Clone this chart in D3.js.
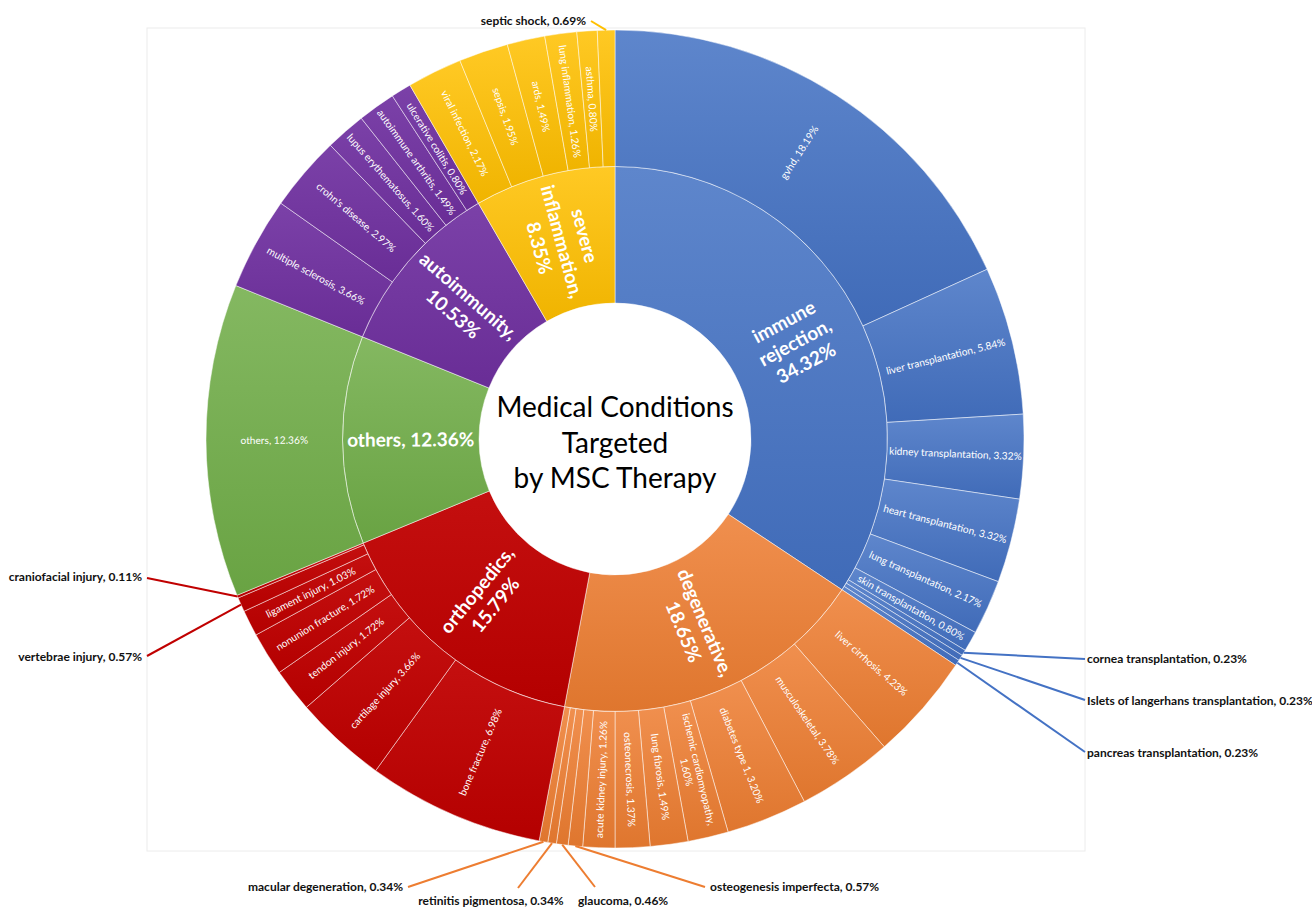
<!DOCTYPE html>
<html>
<head>
<meta charset="utf-8">
<script src="https://cdn.jsdelivr.net/npm/d3@7"></script>
<style>
  body { margin: 0; background: #fff; }
  svg { display: block; font-family: Lato, 'Noto Sans', sans-serif; }
</style>
</head>
<body>
<svg id="chart" width="1312" height="910"></svg>
<script>
// inner ring, clockwise from 12 o'clock
const groups = ['immune rejection', 'degenerative', 'orthopedics', 'others', 'autoimmunity', 'severe inflammation'];
const groupPercents = [34.32, 18.65, 15.79, 12.36, 10.53, 8.35];
const groupColors = ['#4472C4', '#ED7D31', '#C00000', '#70AD47', '#7030A0', '#FFC000'];

// outer ring, one pair of arrays per group
const immuneNames = ['gvhd', 'liver transplantation', 'kidney transplantation', 'heart transplantation',
  'lung transplantation', 'skin transplantation', 'cornea transplantation',
  'Islets of langerhans transplantation', 'pancreas transplantation'];
const immuneValues = [18.19, 5.84, 3.32, 3.32, 2.17, 0.80, 0.23, 0.23, 0.23];

const degenerativeNames = ['liver cirrhosis', 'musculoskeletal', 'diabetes type 1', 'ischemic cardiomyopathy',
  'lung fibrosis', 'osteonecrosis', 'acute kidney injury', 'osteogenesis imperfecta', 'glaucoma',
  'retinitis pigmentosa', 'macular degeneration'];
const degenerativeValues = [4.23, 3.78, 3.20, 1.60, 1.49, 1.37, 1.26, 0.57, 0.46, 0.34, 0.34];

const orthoNames = ['bone fracture', 'cartilage injury', 'tendon injury', 'nonunion fracture',
  'ligament injury', 'vertebrae injury', 'craniofacial injury'];
const orthoValues = [6.98, 3.66, 1.72, 1.72, 1.03, 0.57, 0.11];

const othersNames = ['others'];
const othersValues = [12.36];

const autoNames = ['multiple sclerosis', "crohn's disease", 'lupus erythematosus', 'autoimmune arthritis', 'ulcerative colitis'];
const autoValues = [3.66, 2.97, 1.60, 1.49, 0.80];

const inflamNames = ['viral infection', 'sepsis', 'ards', 'lung inflammation', 'asthma', 'septic shock'];
const inflamValues = [2.17, 1.95, 1.49, 1.26, 0.80, 0.69];

const leafNames = [immuneNames, degenerativeNames, orthoNames, othersNames, autoNames, inflamNames];
const leafValues = [immuneValues, degenerativeValues, orthoValues, othersValues, autoValues, inflamValues];

const titleLines = ['Medical Conditions', 'Targeted', 'by MSC Therapy'];

// where the outside labels of the thin slices go (line end + text anchor)
const callouts = {
  'septic shock': { lx: 591, ly: 21, tx: 586, ty: 21, anchor: 'end' },
  'cornea transplantation': { lx: 1085, ly: 659, tx: 1087, ty: 659, anchor: 'start' },
  'Islets of langerhans transplantation': { lx: 1085, ly: 700, tx: 1087, ty: 701, anchor: 'start' },
  'pancreas transplantation': { lx: 1085, ly: 752, tx: 1087, ty: 753, anchor: 'start' },
  'craniofacial injury': { lx: 147, ly: 578, tx: 142, ty: 577, anchor: 'end' },
  'vertebrae injury': { lx: 147, ly: 656, tx: 142, ty: 657, anchor: 'end' },
  'macular degeneration': { lx: 408, ly: 887, tx: 403, ty: 887, anchor: 'end' },
  'retinitis pigmentosa': { lx: 518, ly: 888, tx: 491, ty: 901, anchor: 'middle' },
  'glaucoma': { lx: 595, ly: 887, tx: 578, ty: 901, anchor: 'start' },
  'osteogenesis imperfecta': { lx: 705, ly: 887, tx: 710, ty: 887, anchor: 'start' }
};

const svg = d3.select('#chart');
const cx = 615, cy = 439;
const rScale = d3.scaleLinear().domain([1, 3]).range([136, 409]);

const root = d3.hierarchy({
  name: 'root',
  children: groups.map((name, i) => ({
    name: name,
    gi: i,
    pct: groupPercents[i],
    children: leafNames[i].map((n, j) => ({ name: n, gi: i, value: leafValues[i][j] }))
  }))
}).sum(d => d.value || 0);

d3.partition().size([2 * Math.PI, 3])(root);

// excel-ish gradient: lighter top, a bit darker bottom
const gradLight = [0.14, 0.14, 0.06, 0.14, 0.08, 0.14];
const defs = svg.append('defs');
groupColors.forEach((c, i) => {
  const lg = defs.append('linearGradient').attr('id', 'grad' + i)
    .attr('x1', 0).attr('y1', 0).attr('x2', 0).attr('y2', 1);
  lg.append('stop').attr('offset', 0).attr('stop-color', d3.interpolateRgb(c, '#fff')(gradLight[i]));
  lg.append('stop').attr('offset', 1).attr('stop-color', d3.interpolateRgb(c, '#000')(0.06));
});

// plot area frame
svg.append('rect')
  .attr('x', 147).attr('y', 28).attr('width', 938).attr('height', 823)
  .attr('fill', 'none').attr('stroke', '#ececec').attr('stroke-width', 1);

const arc = d3.arc()
  .startAngle(d => d.x0)
  .endAngle(d => d.x1)
  .innerRadius(d => rScale(d.y0))
  .outerRadius(d => rScale(d.y1));

const g = svg.append('g').attr('transform', 'translate(' + cx + ',' + cy + ')');

const nodes = root.descendants().filter(d => d.depth > 0);

g.selectAll('path.slice')
  .data(nodes)
  .join('path')
    .attr('class', 'slice')
    .attr('d', arc)
    .attr('fill', d => 'url(#grad' + d.data.gi + ')')
    .attr('stroke', 'rgba(255,255,255,0.65)')
    .attr('stroke-width', 0.75);

// measuring helper for the word wrap
const probe = svg.append('text').attr('visibility', 'hidden');
function textWidth(str, size, weight) {
  probe.attr('font-size', size).attr('font-weight', weight).text(str);
  return probe.node().getComputedTextLength();
}
function wrapLines(str, maxW, size, weight) {
  const words = str.split(' ');
  const lines = [];
  let cur = words[0];
  for (let i = 1; i < words.length; i++) {
    const test = cur + ' ' + words[i];
    if (textWidth(test, size, weight) > maxW) {
      lines.push(cur);
      cur = words[i];
    } else {
      cur = test;
    }
  }
  lines.push(cur);
  return lines;
}

const fmt = d3.format('.2f');
const minInside = 0.75;

const inside = nodes.filter(d => d.depth === 1 || d.value >= minInside);

inside.forEach(d => {
  const inner = d.depth === 1;
  const size = inner ? 19 : 10.2;
  const weight = inner ? 'bold' : 'normal';
  const lh = inner ? 23.5 : 12.5;
  const label = d.data.name + ', ' + fmt(inner ? d.data.pct : d.value) + '%';
  const lines = wrapLines(label, 134, size, weight);
  const a = (d.x0 + d.x1) / 2 * 180 / Math.PI;
  const rm = rScale((d.y0 + d.y1) / 2);
  const t = g.append('text')
    .attr('transform', 'rotate(' + (a - 90) + ') translate(' + rm + ',0) rotate(' + (a < 180 ? 0 : 180) + ')')
    .attr('text-anchor', 'middle')
    .attr('fill', '#fff')
    .attr('font-size', size)
    .attr('font-weight', weight);
  lines.forEach((ln, i) => {
    t.append('tspan')
      .attr('x', 0)
      .attr('y', (i - (lines.length - 1) / 2) * lh)
      .attr('dy', '0.35em')
      .text(ln);
  });
});

// thin slices get a leader line and an outside label
const outside = nodes.filter(d => d.depth === 2 && d.value < minInside);
outside.forEach(d => {
  const c = callouts[d.data.name];
  const a = (d.x0 + d.x1) / 2;
  const r = rScale(d.y1);
  const px = cx + r * Math.sin(a);
  const py = cy - r * Math.cos(a);
  svg.append('line')
    .attr('x1', px).attr('y1', py)
    .attr('x2', c.lx).attr('y2', c.ly)
    .attr('stroke', groupColors[d.data.gi])
    .attr('stroke-width', 2);
  svg.append('text')
    .attr('x', c.tx).attr('y', c.ty)
    .attr('dy', '0.35em')
    .attr('text-anchor', c.anchor)
    .attr('font-size', 12)
    .attr('font-weight', 'bold')
    .attr('fill', '#111')
    .text(d.data.name + ', ' + fmt(d.value) + '%');
});

probe.remove();

// title in the hole
g.append('text')
  .attr('text-anchor', 'middle')
  .attr('font-size', 28)
  .attr('fill', '#000')
  .selectAll('tspan')
  .data(titleLines)
  .join('tspan')
    .attr('x', 0)
    .attr('y', (d, i) => (i - 1) * 35.5 + 4)
    .attr('dy', '0.35em')
    .text(d => d);
</script>
</body>
</html>
